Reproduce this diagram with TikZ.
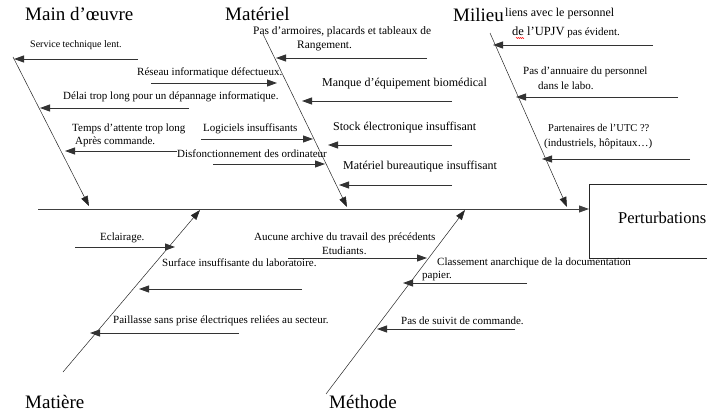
\documentclass[tikz,border=0pt]{standalone}
\usepackage{fontspec}
\setmainfont{Liberation Serif}
\usetikzlibrary{arrows.meta,decorations.pathmorphing}
\begin{document}
\begin{tikzpicture}[x=1pt,y=-1pt,
  bone/.style={draw=black!85, line width=0.5pt, -{Triangle[length=10pt,width=7pt]}},
  sub/.style={draw=black!80, line width=0.9pt, -{Triangle[length=10pt,width=7pt]}},
  lbl/.style={font=\fontsize{11}{13}\selectfont, inner sep=0pt, anchor=west},
  big/.style={font=\fontsize{12}{14}\selectfont},
  ttl/.style={font=\fontsize{19}{21}\selectfont, inner sep=0pt, anchor=west}]
\useasboundingbox (0,0) rectangle (719,414);
% titles
\node[ttl] (tMO) at (25,14) {Main d’œuvre};
\node[ttl] (tMA) at (225,14) {Matériel};
\node[ttl] (tMI) at (453,15) {Milieu};
\node[ttl] (tMT) at (25,402) {Matière};
\node[ttl] (tME) at (329,402) {Méthode};
% effect box
\draw[black!85, line width=0.8pt] (707,184) -- (589,184) -- (589,258) -- (707,258);
\coordinate (boxW) at (589,209);
\node[inner sep=0pt, anchor=west, font=\fontsize{16.5}{18}\selectfont] (eff) at (618,218) {Perturbations};
% spine
\coordinate (spS) at (38,209);
\draw[sub, draw=black!75] (spS) -- (boxW);
% bones
\coordinate (moS) at (13,57);  \coordinate (moE) at (89,206);
\coordinate (maS) at (263,34); \coordinate (maE) at (347,207);
\coordinate (miS) at (490,33); \coordinate (miE) at (567,207);
\coordinate (mtS) at (63,372); \coordinate (mtE) at (200,210);
\coordinate (meS) at (326,394); \coordinate (meE) at (465,210);
\draw[bone] (moS) -- (moE);
\draw[bone] (maS) -- (maE);
\draw[bone] (miS) -- (miE);
\draw[bone] (mtS) -- (mtE);
\draw[bone] (meS) -- (meE);
% Main d'oeuvre
\node[lbl, font=\fontsize{10}{12}\selectfont] (l1) at (30,45) {Service technique lent.};
\node[lbl] (l2) at (137,73) {Réseau informatique défectueux.};
\node[lbl] (l3) at (63,97) {Délai trop long pour un dépannage informatique.};
\node[lbl] (l4) at (72,129) {Temps d’attente trop long};
\node[lbl] (l4b) at (75,142) {Après commande.};
\node[lbl] (l5) at (203,129) {Logiciels insuffisants};
\node[lbl] (l6) at (177,154) {Disfonctionnement des ordinateur};
\coordinate (a1s) at (138,59); \coordinate (a1e) at (14,59);
\coordinate (a2s) at (151,83); \coordinate (a2e) at (277,83);
\coordinate (a3s) at (189,108); \coordinate (a3e) at (40,108);
\coordinate (a4s) at (177,151); \coordinate (a4e) at (65,151);
\coordinate (a5s) at (201,139); \coordinate (a5e) at (313,139);
\coordinate (a6s) at (213,164); \coordinate (a6e) at (325,164);
\foreach \i in {1,...,6} {\draw[sub] (a\i s) -- (a\i e);}
% Materiel right
\node[lbl, font=\fontsize{11.4}{13}\selectfont] (m1) at (253,32) {Pas d’armoires, placards et tableaux de};
\node[lbl, font=\fontsize{11.4}{13}\selectfont] (m1b) at (297,46) {Rangement.};
\node[lbl, big] (m2) at (322,84) {Manque d’équipement biomédical};
\node[lbl, big] (m3) at (333,128) {Stock électronique insuffisant};
\node[lbl, big] (m4) at (343,167) {Matériel bureautique insuffisant};
\coordinate (b1s) at (427,58); \coordinate (b1e) at (276,58);
\coordinate (b2s) at (452,101); \coordinate (b2e) at (302,101);
\coordinate (b3s) at (452,145); \coordinate (b3e) at (328,145);
\coordinate (b4s) at (452,185); \coordinate (b4e) at (339,185);
\foreach \i in {1,...,4} {\draw[sub] (b\i s) -- (b\i e);}
% Milieu
\node[lbl, big] (n1) at (505,14) {liens avec le personnel};
\node[lbl] (n1b) at (512,32) {{\fontsize{12.5}{14}\selectfont de l’UPJV} pas évident.};
\draw[red, line width=0.4pt, decorate, decoration={zigzag, amplitude=0.6pt, segment length=2pt}] ([xshift=4pt,yshift=-6pt]n1b.west) -- ([xshift=12pt,yshift=-6pt]n1b.west);
\node[lbl] (n2) at (523,72) {Pas d’annuaire du personnel};
\node[lbl] (n2b) at (538,86) {dans le labo.};
\node[lbl, font=\fontsize{10.5}{12}\selectfont] (n3) at (548,128) {Partenaires de l’UTC ??};
\node[lbl] (n3b) at (544,144) {(industriels, hôpitaux…)};
\coordinate (c1s) at (653,45); \coordinate (c1e) at (493,45);
\coordinate (c2s) at (678,97); \coordinate (c2e) at (516,97);
\coordinate (c3s) at (690,159); \coordinate (c3e) at (542,159);
\foreach \i in {1,...,3} {\draw[sub] (c\i s) -- (c\i e);}
% Matiere
\node[lbl] (p1) at (100,238) {Eclairage.};
\node[lbl] (p2) at (162,263) {Surface insuffisante du laboratoire.};
\node[lbl] (p3) at (113,321) {Paillasse sans prise électriques reliées au secteur.};
\coordinate (d1s) at (75,247); \coordinate (d1e) at (175,247);
\coordinate (d2s) at (302,289); \coordinate (d2e) at (139,289);
\coordinate (d3s) at (239,333); \coordinate (d3e) at (90,333);
\foreach \i in {1,...,3} {\draw[sub] (d\i s) -- (d\i e);}
% Methode
\node[lbl] (q1) at (254,238) {Aucune archive du travail des précédents};
\node[lbl] (q1b) at (322,251) {Etudiants.};
\node[lbl] (q2) at (437,263) {Classement anarchique de la documentation};
\node[lbl] (q2b) at (422,276) {papier.};
\node[lbl] (q3) at (401,321) {Pas de suivit de commande.};
\coordinate (e1s) at (288,258); \coordinate (e1e) at (427,258);
\coordinate (e2s) at (527,283); \coordinate (e2e) at (403,283);
\coordinate (e3s) at (515,329); \coordinate (e3e) at (377,329);
\foreach \i in {1,...,3} {\draw[sub] (e\i s) -- (e\i e);}
\end{tikzpicture}
\end{document}
